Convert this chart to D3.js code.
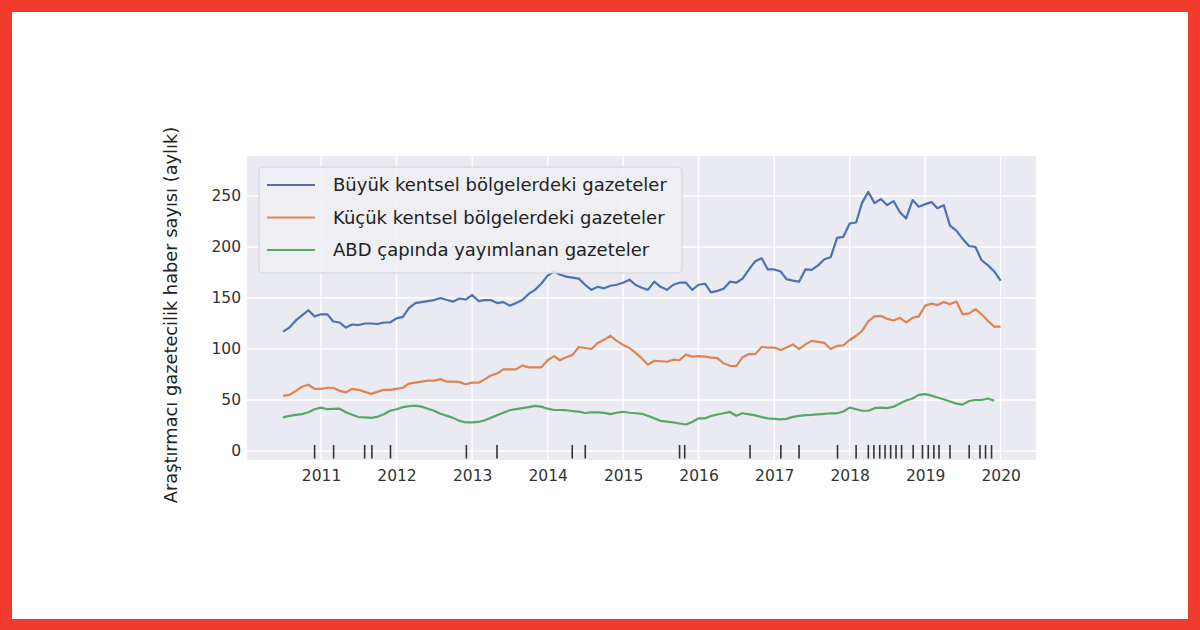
<!DOCTYPE html>
<html>
<head>
<meta charset="utf-8">
<script src="https://cdn.jsdelivr.net/npm/d3@7"></script>
<style>
body{margin:0;background:#fff;}
text{font-family:"DejaVu Sans",sans-serif;}
</style>
</head>
<body>
<svg id="chart"></svg>
<script>
// haber sayisi chart

// data
var start="2010-07";
var buyuk=[117,121,128,133,138,132,134,134,127,126,
	121,124,123.5,125,125,124.5,126,126,130,131.5,
	140,145,146,147,148,150,148,146.5,149.5,148.5,
	153,147,148,148,145,146,142.5,145,148,154,
	158,164,172,176,173,171,170,169,163,158,
	161,159.5,162,163,165,168,163,160,158,166,
	161,158,163,165,165,158,163,164,155.5,157,
	159,166,165,169,178,186,189,178,178,176,
	168.5,167,166,178,177.5,182,188,190,209,210,
	223,224,243,254,243,247,241,245,234,228,
	246,239.5,242,244,238,241,221,216,208,201,
	200,187,182,176,167];
var kucuk=[54,55,59,63,65,61,61,62,62,59,
	57.5,61,60,58,56,58,60,60,61,62,
	66,67,68,69,69,70.5,68,68,67.5,65.5,
	67,67,70,74,76,80,80,80,84,82,
	82,82,89,93,89,92,94,102,101,100,
	106,109,113,108,104,101,96.5,91,84.5,88.5,
	88,87.5,89.5,89,94.5,92.5,93,92.5,91.5,91,
	86,83.5,83.3,92,95,95,102,101.3,101.5,99,
	101.5,104.5,100,104.5,108,107,106,100,103,103.5,
	108.8,113,117.5,127,132,132.5,129.5,128,130.5,126,
	130.5,132,142.5,144.5,143,146,144,146.5,134,135,
	139,134,127.5,122,122];
var abd=[33,34.5,35.5,36.2,38,41,42.5,41,41.3,41.5,
	38,35.5,33.3,33,32.5,33.5,36,39.5,41,43,
	44,44.5,43.5,41.5,39.5,36.5,34.5,32.5,29.5,28,
	28,28.5,30,32.5,35,37.5,40,41,42,43,
	44.3,43.5,41.5,40.2,40.2,40,39.2,38.6,37.3,37.8,
	37.8,37.4,36.2,37.5,38.5,37.5,37,36.5,34.5,32,
	29.6,28.8,28,27,26,28.5,32,32,34.3,35.8,
	37,38.3,34.6,37,36,35,33.3,32,31.5,31,
	31.5,33.5,34.5,35.2,35.5,36,36.5,37,37,38.7,
	42.5,41,39.5,39.5,42,42.5,42,43.5,46.5,49.5,
	51.5,55,55.8,54.3,52.5,50.7,48.5,46.5,45.5,49,
	50,50,51.5,49.3];
var rug=["2010-12-01","2011-03-03","2011-07-31","2011-09-04","2011-12-03",
	"2012-12-04","2013-05-01","2014-04-30","2014-07-02","2015-10-01",
	"2015-10-26","2016-09-06","2017-02-02","2017-05-01","2017-11-03",
	"2018-02-01","2018-04-01","2018-04-28","2018-05-26","2018-06-21",
	"2018-07-18","2018-08-13","2018-09-09","2018-11-04","2018-12-19",
	"2019-01-16","2019-02-12","2019-03-09","2019-05-01","2019-08-02",
	"2019-09-23","2019-10-20","2019-11-18"];
var names=["Büyük kentsel bölgelerdeki gazeteler","Küçük kentsel bölgelerdeki gazeteler","ABD çapında yayımlanan gazeteler"];
var colors=["#4c72b0","#dd8452","#55a868"];
var xTicks=[2011,2012,2013,2014,2015,2016,2017,2018,2019,2020];
var yTicks=[0,50,100,150,200,250];
var yTitle="Araştırmacı gazetecilik haber sayısı (aylık)";

// layout
w=1200;h=630;
var L=247,R=1036,T=156,B=460;
var chart=d3.select("#chart").attr("width",w).attr("height",h);
chart.append("rect").attr("width",w).attr("height",h).style("fill","#ef3a2d");
chart.append("rect").attr("x",12).attr("y",12).attr("width",w-24).attr("height",h-23).style("fill","#fff");

var parseM=d3.timeParse("%Y-%m"),parseD=d3.timeParse("%Y-%m-%d");
var t0=parseM(start);
var x=d3.scaleTime().domain([new Date(2010,0,8),new Date(2020,5,20)]).range([L,R]);
var y=d3.scaleLinear().domain([-8.8,289.2]).range([B,T]);

chart.append("rect").attr("x",L).attr("y",T).attr("width",R-L).attr("height",B-T).style("fill","#eaeaf2");

// grid
chart.selectAll(".gx").data(xTicks).enter().append("line")
	.attr("x1",function(d){return x(new Date(d,0,1));}).attr("x2",function(d){return x(new Date(d,0,1));})
	.attr("y1",T).attr("y2",B).style("stroke","#fff").style("stroke-width",1.4);
chart.selectAll(".gy").data(yTicks).enter().append("line")
	.attr("y1",function(d){return y(d);}).attr("y2",function(d){return y(d);})
	.attr("x1",L).attr("x2",R).style("stroke","#fff").style("stroke-width",1.4);

// axes
var ax=chart.append("g").attr("transform","translate(0,"+(B+6)+")")
	.call(d3.axisBottom(x).tickValues(xTicks.map(function(d){return new Date(d,0,1);})).tickFormat(d3.timeFormat("%Y")).tickSize(0).tickPadding(0));
var ay=chart.append("g").attr("transform","translate("+(L-6)+",0)")
	.call(d3.axisLeft(y).tickValues(yTicks).tickSize(0).tickPadding(0));
chart.selectAll(".domain").remove();
ax.selectAll("text").style("font-size","15.5px").style("fill","#333").attr("dy","0.95em");
ay.selectAll("text").style("font-size","15.5px").style("fill","#333");

chart.append("text").attr("transform","translate(171,315) rotate(-90)")
	.attr("text-anchor","middle").attr("dy","0.35em").style("font-size","17.8px").style("fill","#222").text(yTitle);

// lines
var line=d3.line().x(function(d,i){return x(d3.timeMonth.offset(t0,i));}).y(function(d){return y(d);});
chart.selectAll(".series").data([buyuk,kucuk,abd]).enter().append("path")
	.attr("d",line).style("fill","none")
	.style("stroke",function(d,i){return colors[i];}).style("stroke-width",2.2).style("stroke-linejoin","round");

// rug
chart.selectAll(".rug").data(rug).enter().append("line")
	.attr("x1",function(d){return x(parseD(d));}).attr("x2",function(d){return x(parseD(d));})
	.attr("y1",B-1.5).attr("y2",B-15).style("stroke","#333").style("stroke-width",1.6);

// legend
var lg=chart.append("g");
lg.append("rect").attr("x",259).attr("y",167).attr("width",423).attr("height",106).attr("rx",4)
	.style("fill","#eeeef3").style("fill-opacity",0.85).style("stroke","#d4d4dc");
var li=lg.selectAll(".li").data(names).enter().append("g")
	.attr("transform",function(d,i){return "translate(0,"+(185+i*32.5)+")";});
li.append("line").attr("x1",267).attr("x2",315).style("stroke",function(d,i){return colors[i];}).style("stroke-width",2.2);
li.append("text").attr("x",333).attr("dy","0.35em").style("font-size","18px").style("fill","#222").text(function(d){return d;});
</script>
</body>
</html>
